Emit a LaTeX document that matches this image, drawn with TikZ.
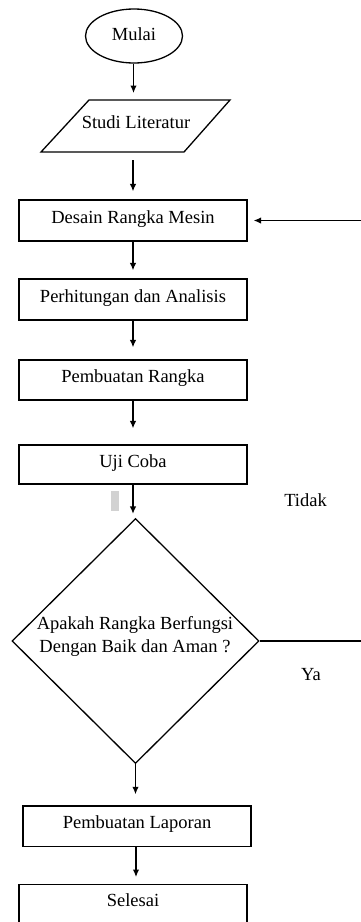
\documentclass[tikz,border=0pt]{standalone}
\usepackage{fontspec}
\setmainfont{Liberation Serif}
\usetikzlibrary{shapes.geometric,arrows.meta}
\begin{document}
\begin{tikzpicture}[x=1pt,y=-1pt,
  every node/.style={font=\fontsize{18.5}{23}\selectfont, text=black, inner sep=0pt},
  procbox/.style={draw, line width=1.3pt, minimum width=228pt, minimum height=40pt, text height=12pt, text depth=7pt},
  flow/.style={-{Latex[length=7.5pt,width=6.5pt]}, line width=1.3pt},
  edge line/.style={line width=1.3pt}]
\useasboundingbox (0,0) rectangle (361,922);

% start
\node[draw, ellipse, line width=1.3pt, minimum width=97pt, minimum height=54pt, text height=12pt, text depth=4pt] (mulai) at (134,36) {Mulai};

% input parallelogram
\draw[edge line] (89,100) -- (230,100) -- (184,152) -- (41,152) -- cycle;
\node[text height=12pt, text depth=7pt] (studi) at (136,125.5) {Studi Literatur};
\coordinate (studiN) at (133.5,100);
\coordinate (studiS) at (133,152);

% process boxes
\node[procbox, minimum height=41pt] (desain) at (133,220.5) {Desain Rangka Mesin};
\node[procbox, minimum height=41pt] (perhit) at (133,299.5) {Perhitungan dan Analisis};
\node[procbox] (buat) at (133,380) {Pembuatan Rangka};
\node[procbox, minimum height=39pt] (uji) at (133,464.5) {Uji Coba};

% decision
\node[draw, diamond, line width=1.3pt, minimum width=247pt, minimum height=245pt] (dec) at (135.5,641) {};
\node[align=center] (qtxt) at (135,636) {Apakah Rangka Berfungsi\\Dengan Baik dan Aman ?};

\node[procbox, minimum height=40.7pt] (lapor) at (137,826.3) {Pembuatan Laporan};
\node[procbox, anchor=north, text height=22pt, text depth=30pt] (selesai) at (133,884) {Selesai};

% labels
\node[anchor=base] (tidak) at (305.5,506) {Tidak};
\node[anchor=base] (ya) at (311,680) {Ya};

% stray grey mark
\fill[gray!35] (110.7,490.7) rectangle (119.3,511);

% connectors
\draw[flow, shorten >=7pt] (mulai.south -| studiN) -- (studiN);
\draw[flow, shorten <=8pt, shorten >=8pt] (studiS) -- (desain.north);
\draw[flow, shorten >=8pt] (desain.south) -- (perhit.north);
\draw[flow, shorten >=12pt] (perhit.south) -- (buat.north);
\draw[flow, shorten >=16pt] (buat.south) -- (uji.north);
\draw[flow, shorten >=4pt] (uji.south) -- (uji.south |- dec.north);
\draw[flow, shorten >=11pt] (dec.south) -- (dec.south |- lapor.north);
\draw[flow, shorten >=7pt] ([xshift=-1pt]lapor.south) -- ([xshift=-1pt]lapor.south |- selesai.north);

% feedback loop
\coordinate (fb) at (372,641);
\draw[flow, shorten >=6pt] (dec.east) -- (fb) |- (desain.east);
\end{tikzpicture}
\end{document}
